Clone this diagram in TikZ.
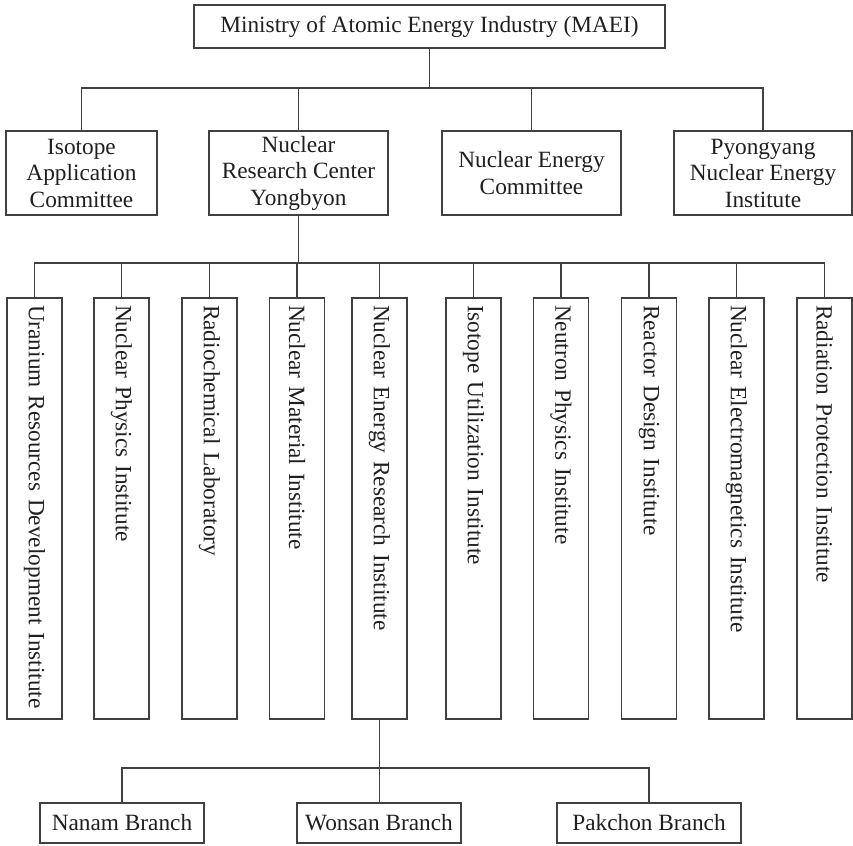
\documentclass[tikz,border=0pt]{standalone}
\usepackage{fontspec}
\setmainfont{Liberation Serif}
\begin{document}
\begin{tikzpicture}[x=1pt,y=-1pt,
  line width=1.3pt, draw=black!75,
  every node/.style={text=black!88, font=\fontsize{23.3}{26.5}\selectfont},
  box/.style={draw=black!75, line width=1.3pt, inner sep=0pt, align=center},
  vbox/.style={draw=black!75, line width=1.3pt, rotate=-90, minimum height=55pt,
     inner xsep=7pt, inner ysep=0pt, text width=407pt, align=left},
  conn/.style={draw=black!75, line width=1.3pt}]
\useasboundingbox (0,0) rectangle (853,845);
% top
\node[box, minimum width=471pt, minimum height=43pt] (maei) at (429.5,26.5) {Ministry of Atomic Energy Industry (MAEI)};
% level 2
\node[box, minimum width=151pt, minimum height=84pt] (iac) at (81.5,173) {Isotope\\Application\\Committee};
\node[box, minimum width=179pt, minimum height=84pt] (nrc) at (298.5,173) {Nuclear\\Research Center\\Yongbyon};
\node[box, minimum width=179pt, minimum height=84pt] (nec) at (531.5,173) {Nuclear Energy\\Committee};
\node[box, minimum width=178pt, minimum height=84pt] (pnei) at (763,173) {Pyongyang\\Nuclear Energy\\Institute};
\coordinate (h1) at (429.5,88);
\draw[conn] (maei.south) -- (h1);
\draw[conn] (iac.north) |- (h1) -| (pnei.north);
\draw[conn] (nrc.north) -- (nrc.north |- h1);
\draw[conn] (nec.north) -- (nec.north |- h1);
% level 3
\node[vbox] (u1) at (34.5,508.5) {Uranium Resources Development Institute};
\node[vbox] (u2) at (121.5,508.5) {Nuclear Physics Institute};
\node[vbox] (u3) at (209.5,508.5) {Radiochemical Laboratory};
\node[vbox] (u4) at (297,508.5) {Nuclear Material Institute};
\node[vbox] (u5) at (379.5,508.5) {Nuclear Energy Research Institute};
\node[vbox] (u6) at (473.5,508.5) {Isotope Utilization Institute};
\node[vbox] (u7) at (561,508.5) {Neutron Physics Institute};
\node[vbox] (u8) at (649,508.5) {Reactor Design Institute};
\node[vbox] (u9) at (736.5,508.5) {Nuclear Electromagnetics Institute};
\node[vbox] (u10) at (824.5,508.5) {Radiation Protection Institute};
\coordinate (h2) at (298.5,263);
\draw[conn] (nrc.south) -- (h2);
\draw[conn] (u1.west) |- (h2) -| (u10.west);
\foreach \n in {u2,u3,u4,u5,u6,u7,u8,u9}{\draw[conn] (\n.west) -- (\n.west |- h2);}
% branches
\node[box, minimum width=164pt, minimum height=40pt] (b1) at (122,823) {Nanam Branch};
\node[box, minimum width=164pt, minimum height=40pt] (b2) at (379,823) {Wonsan Branch};
\node[box, minimum width=184pt, minimum height=40pt] (b3) at (649,823) {Pakchon Branch};
\coordinate (h3) at (379.5,768);
\draw[conn] (u5.east) -- (u5.east |- b2.north);
\draw[conn] (b1.north) |- (h3) -| (b3.north);
\end{tikzpicture}
\end{document}
